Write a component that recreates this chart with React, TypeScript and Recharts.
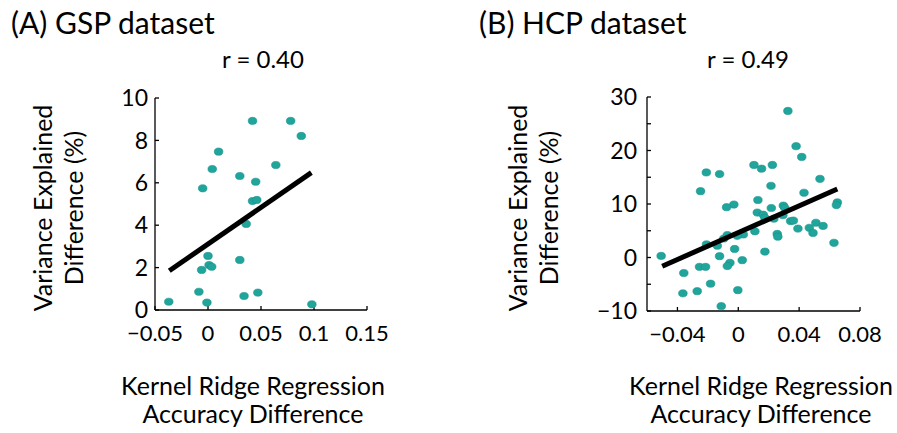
import { ScatterChart, Scatter, XAxis, YAxis } from "recharts";

// GSP dataset: kernel ridge regression accuracy difference vs variance explained difference
const gspX = [0.042, 0.078, 0.088, 0.010, 0.004, 0.064, 0.030, 0.045, -0.005, 0.042, 0.046, 0.036,
  0.000, 0.030, 0.001, 0.0035, -0.006, -0.0086, 0.047, 0.034, -0.037, -0.001, 0.098];
const gspY = [8.92, 8.92, 8.21, 7.47, 6.65, 6.84, 6.32, 6.05, 5.74, 5.14, 5.19, 4.06,
  2.55, 2.36, 2.12, 2.04, 1.89, 0.86, 0.82, 0.66, 0.39, 0.35, 0.27];
const gspFitX = [-0.0365, 0.0975];
const gspFitY = [1.85, 6.48];
const gspXTicks = [-0.05, 0, 0.05, 0.1, 0.15];
const gspYTicks = [0, 2, 4, 6, 8, 10];

// HCP dataset
const hcpX = [0.0326, 0.038, 0.0417, 0.0103, 0.0153, 0.0224, -0.021, -0.0123, 0.0537, 0.0215, -0.0248,
  0.0432, 0.0129, 0.0651, 0.0645, -0.0029, -0.0077, 0.0296, 0.0305, 0.0217, 0.0125, 0.0164, 0.0175,
  0.0234, 0.0293, 0.0344, 0.0362, 0.051, 0.0557, 0.0392, 0.0467, 0.0491, 0.0109, 0.0256, 0.026,
  -0.0072, 0.0033, -0.0007, -0.0095, 0.0629, -0.0209, -0.0138, -0.0024, 0.0175, -0.0507, -0.0123,
  0.0026, -0.0055, -0.0072, -0.0255, -0.0215, -0.0358, -0.0182, -0.027, -0.0364, -0.0003, -0.0112];
const hcpY = [27.4, 20.8, 18.8, 17.3, 16.6, 17.3, 15.9, 15.6, 14.7, 13.4, 12.4,
  12.1, 10.75, 10.3, 9.8, 9.9, 9.4, 9.7, 9.3, 9.25, 8.4, 8.0, 7.4,
  7.25, 7.9, 6.8, 6.9, 6.5, 5.9, 5.4, 5.55, 4.6, 4.9, 4.4, 3.9,
  4.2, 4.3, 4.05, 3.55, 2.75, 2.45, 2.2, 1.6, 1.1, 0.3, 0.25,
  -0.5, -1.0, -1.6, -1.75, -1.75, -2.9, -4.9, -6.3, -6.7, -6.1, -9.1];
const hcpFitX = [-0.05, 0.0651];
const hcpFitY = [-1.63, 12.8];
const hcpXTicks = [-0.04, 0, 0.04, 0.08];
const hcpYTicks = [-10, -5, 0, 5, 10, 15, 20, 25, 30];

const FONT = "Lato, 'Open Sans', sans-serif";
const DOT = "#1fa59c";
const INK = "#000";

const zip = (xs: number[], ys: number[]) => xs.map((x, i) => ({ x, y: ys[i] }));

const Dot = (props: any) => {
  const { cx, cy } = props;
  if (cx == null || cy == null) return <g />;
  return <ellipse cx={cx} cy={cy} rx={4.3} ry={3.6} fill={DOT} stroke="#17928a" strokeWidth={0.6} />;
};

const NoDot = () => <g />;

const fmtNum = (v: number) => {
  if (v === 0) return "0";
  return String(v).replace("-", "\u2212");
};

interface PanelProps {
  left: number;
  xs: number[];
  ys: number[];
  fitX: number[];
  fitY: number[];
  xDomain: [number, number];
  yDomain: [number, number];
  xTicks: number[];
  yTicks: number[];
  yLabelEvery?: number;
  margin: { top: number; right: number; bottom: number; left: number };
  yTickMargin: number;
}

function Panel({ left, xs, ys, fitX, fitY, xDomain, yDomain, xTicks, yTicks, yLabelEvery, margin, yTickMargin }: PanelProps) {
  const yFmt = (v: number) => {
    if (yLabelEvery && Math.abs(v % yLabelEvery) > 1e-9) return "";
    return fmtNum(v);
  };
  return (
    <div style={{ position: "absolute", left, top: 0 }}>
      <ScatterChart width={448} height={433} margin={margin}>
        <XAxis
          type="number"
          dataKey="x"
          domain={xDomain}
          ticks={xTicks}
          tickFormatter={fmtNum}
          allowDataOverflow
          height={30}
          tickSize={-4}
          tickMargin={19}
          axisLine={{ stroke: INK, strokeWidth: 1.3 }}
          tickLine={{ stroke: INK, strokeWidth: 1.3 }}
          tick={{ fill: INK, fontSize: 22, fontFamily: FONT }}
          interval={0}
        />
        <YAxis
          type="number"
          dataKey="y"
          domain={yDomain}
          ticks={yTicks}
          tickFormatter={yFmt}
          allowDataOverflow
          width={60}
          tickSize={-4}
          tickMargin={yTickMargin}
          axisLine={{ stroke: INK, strokeWidth: 1.3 }}
          tickLine={{ stroke: INK, strokeWidth: 1.3 }}
          tick={{ fill: INK, fontSize: 23, fontFamily: FONT }}
          interval={0}
        />
        <Scatter data={zip(xs, ys)} shape={<Dot />} isAnimationActive={false} />
        <Scatter
          data={zip(fitX, fitY)}
          line={{ stroke: INK, strokeWidth: 5 }}
          shape={<NoDot />}
          isAnimationActive={false}
        />
      </ScatterChart>
    </div>
  );
}

const text = (extra: any) => ({
  position: "absolute" as const,
  fontFamily: FONT,
  color: INK,
  whiteSpace: "nowrap" as const,
  ...extra,
});

function YTitle({ cx }: { cx: number }) {
  return (
    <div
      style={text({
        left: cx - 150,
        top: 208 - 31,
        width: 300,
        height: 62,
        fontSize: 25,
        lineHeight: "31px",
        textAlign: "center",
        transform: "rotate(-90deg)",
      })}
    >
      Variance Explained
      <br />
      Difference (%)
    </div>
  );
}

function XTitle({ cx }: { cx: number }) {
  return (
    <div
      style={text({
        left: cx - 170,
        top: 371,
        width: 340,
        fontSize: 25,
        lineHeight: "28px",
        textAlign: "center",
      })}
    >
      Kernel Ridge Regression
      <br />
      Accuracy Difference
    </div>
  );
}

export default function App() {
  return (
    <div style={{ position: "absolute", left: 0, top: 0, width: 897, height: 433, background: "#fff", overflow: "hidden" }}>
      <Panel
        left={0}
        xs={gspX}
        ys={gspY}
        fitX={gspFitX}
        fitY={gspFitY}
        xDomain={[-0.05, 0.15]}
        yDomain={[0, 10]}
        xTicks={gspXTicks}
        yTicks={gspYTicks}
        margin={{ top: 98, right: 81, bottom: 93, left: 95 }}
        yTickMargin={11}
      />
      <Panel
        left={449}
        xs={hcpX}
        ys={hcpY}
        fitX={hcpFitX}
        fitY={hcpFitY}
        xDomain={[-0.06, 0.08]}
        yDomain={[-10, 30]}
        xTicks={hcpXTicks}
        yTicks={hcpYTicks}
        yLabelEvery={10}
        margin={{ top: 97, right: 37, bottom: 92, left: 138 }}
        yTickMargin={14}
      />
      <div style={text({ left: 11, top: 4, fontSize: 30 })}>(A) GSP dataset</div>
      <div style={text({ left: 479, top: 4, fontSize: 30 })}>(B) HCP dataset</div>
      <div style={text({ left: 263 - 70, top: 44, width: 140, textAlign: "center", fontSize: 24 })}>r = 0.40</div>
      <div style={text({ left: 748 - 70, top: 44, width: 140, textAlign: "center", fontSize: 24 })}>r = 0.49</div>
      <YTitle cx={58} />
      <YTitle cx={533} />
      <XTitle cx={253} />
      <XTitle cx={761} />
    </div>
  );
}
